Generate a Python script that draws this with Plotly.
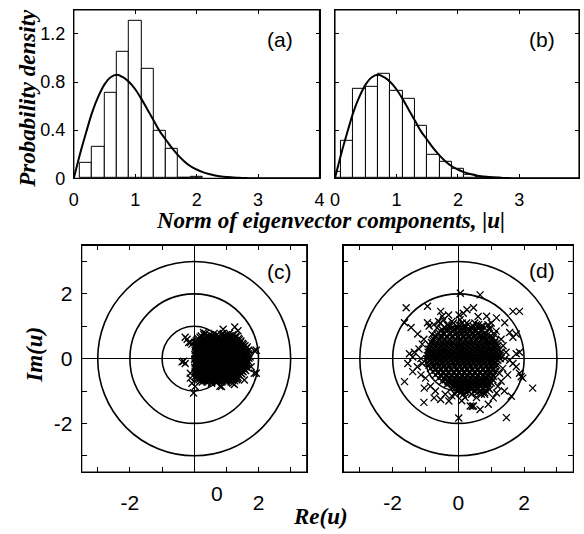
import plotly.graph_objects as go

W, H = 584, 534

# ---------------- data ----------------
# (a) histogram
hist_a_centers = [0.2, 0.4, 0.6, 0.8, 1.0, 1.2, 1.4, 1.6, 1.8, 2.0]
hist_a_heights = [0.13, 0.26, 0.71, 1.05, 1.31, 0.91, 0.395, 0.245, 0.0, 0.015]
# (b) histogram
hist_b_centers = [0.0, 0.2, 0.4, 0.6, 0.8, 1.0, 1.2, 1.4, 1.6, 1.8, 2.0, 2.2, 2.4, 2.6]
hist_b_heights = [0.05, 0.31, 0.74, 0.76, 0.865, 0.73, 0.66, 0.435, 0.195, 0.14, 0.079, 0.025, 0.011, 0.004]
bin_width = 0.2

# theoretical density curve (same in a and b)
curve_x = [0.0, 0.1, 0.2, 0.3, 0.4, 0.5, 0.6, 0.7, 0.8, 0.9, 1.0, 1.1, 1.2, 1.3, 1.4,
           1.5, 1.6, 1.7, 1.8, 1.9, 2.0, 2.1, 2.2, 2.3, 2.4, 2.5, 2.6, 2.7, 2.8, 2.9,
           3.0, 3.2, 3.4, 3.6, 3.8, 4.0]
curve_y = [0.0, 0.2, 0.38, 0.55, 0.68, 0.78, 0.84, 0.86, 0.84, 0.8, 0.74, 0.66, 0.57,
           0.48, 0.39, 0.32, 0.25, 0.19, 0.14, 0.1, 0.073, 0.051, 0.035, 0.023, 0.015,
           0.01, 0.006, 0.004, 0.002, 0.001, 0.0, 0.0, 0.0, 0.0, 0.0, 0.0]

# reference circles in (c), (d)
circle_radii = [1, 2, 3]

# (c) scatter: dense blob, read row by row (y value, list of x values)
c_row_y = [0.78, 0.74, 0.70, 0.66, 0.62, 0.585, 0.55, 0.51, 0.47, 0.435, 0.40, 0.365,
           0.33, 0.295, 0.26, 0.225, 0.19, 0.155, 0.12, 0.085, 0.05, 0.015, -0.02,
           -0.055, -0.09, -0.125, -0.16, -0.195, -0.23, -0.265, -0.30, -0.335, -0.37,
           -0.405, -0.44, -0.475, -0.51, -0.545, -0.58, -0.615, -0.65, -0.685, -0.72]
c_row_x = [
    [0.35, 0.62, 0.9, 1.1],
    [0.3, 0.5, 0.7, 0.85, 1.02, 1.2],
    [0.22, 0.45, 0.58, 0.77, 0.95, 1.12, 1.3],
    [0.18, 0.36, 0.49, 0.62, 0.75, 0.9, 1.03, 1.16, 1.3],
    [0.12, 0.3, 0.41, 0.55, 0.68, 0.83, 0.97, 1.08, 1.22, 1.38],
    [0.09, 0.25, 0.37, 0.51, 0.64, 0.77, 0.89, 1.0, 1.12, 1.26, 1.4],
    [0.06, 0.2, 0.33, 0.47, 0.6, 0.71, 0.85, 0.93, 1.04, 1.17, 1.29, 1.45],
    [0.03, 0.15, 0.29, 0.43, 0.56, 0.68, 0.79, 0.88, 0.97, 1.07, 1.19, 1.31, 1.45],
    [0.1, 0.25, 0.38, 0.5, 0.63, 0.74, 0.82, 0.9, 1.0, 1.11, 1.24, 1.36, 1.5],
    [0.07, 0.2, 0.33, 0.46, 0.59, 0.7, 0.8, 0.92, 1.03, 1.14, 1.27, 1.4, 1.53],
    [0.04, 0.16, 0.29, 0.42, 0.55, 0.66, 0.78, 0.87, 0.96, 1.07, 1.18, 1.3, 1.43, 1.58],
    [0.03, 0.12, 0.25, 0.38, 0.51, 0.62, 0.73, 0.84, 0.93, 1.03, 1.14, 1.26, 1.38, 1.52, 1.65],
    [0.09, 0.22, 0.35, 0.47, 0.58, 0.7, 0.8, 0.92, 1.02, 1.13, 1.25, 1.37, 1.5, 1.63],
    [0.06, 0.18, 0.31, 0.44, 0.55, 0.67, 0.78, 0.88, 0.98, 1.09, 1.2, 1.32, 1.45, 1.6],
    [0.03, 0.14, 0.27, 0.4, 0.52, 0.63, 0.75, 0.85, 0.95, 1.06, 1.17, 1.28, 1.41, 1.55, 1.7],
    [0.1, 0.24, 0.37, 0.49, 0.6, 0.71, 0.82, 0.92, 1.02, 1.13, 1.25, 1.37, 1.5, 1.65],
    [0.08, 0.2, 0.33, 0.45, 0.57, 0.68, 0.79, 0.89, 0.99, 1.1, 1.21, 1.33, 1.46, 1.6],
    [0.05, 0.17, 0.3, 0.42, 0.54, 0.65, 0.76, 0.86, 0.96, 1.06, 1.17, 1.3, 1.43, 1.57, 1.7],
    [0.02, 0.13, 0.25, 0.38, 0.5, 0.61, 0.72, 0.83, 0.93, 1.03, 1.14, 1.26, 1.38, 1.52, 1.66],
    [0.1, 0.22, 0.34, 0.46, 0.58, 0.69, 0.8, 0.9, 1.0, 1.11, 1.23, 1.35, 1.49, 1.63],
    [0.07, 0.18, 0.3, 0.43, 0.55, 0.66, 0.77, 0.87, 0.97, 1.08, 1.19, 1.31, 1.44, 1.58, 1.74],
    [0.04, 0.16, 0.28, 0.4, 0.52, 0.63, 0.74, 0.84, 0.94, 1.04, 1.15, 1.28, 1.41, 1.55, 1.7],
    [0.01, 0.12, 0.24, 0.36, 0.48, 0.6, 0.71, 0.81, 0.91, 1.01, 1.12, 1.24, 1.36, 1.5, 1.64],
    [0.09, 0.2, 0.32, 0.44, 0.56, 0.67, 0.78, 0.88, 0.98, 1.09, 1.2, 1.33, 1.46, 1.6],
    [0.06, 0.17, 0.29, 0.41, 0.53, 0.64, 0.75, 0.85, 0.95, 1.05, 1.16, 1.28, 1.41, 1.55, 1.69],
    [0.03, 0.12, 0.23, 0.35, 0.47, 0.58, 0.69, 0.79, 0.89, 0.99, 1.1, 1.22, 1.34, 1.47, 1.62],
    [0.03, 0.14, 0.26, 0.38, 0.5, 0.61, 0.72, 0.82, 0.92, 1.02, 1.13, 1.25, 1.37, 1.5, 1.62],
    [0.06, 0.17, 0.29, 0.41, 0.53, 0.64, 0.75, 0.85, 0.95, 1.06, 1.17, 1.29, 1.42, 1.56],
    [0.08, 0.2, 0.32, 0.44, 0.56, 0.67, 0.78, 0.88, 0.98, 1.09, 1.2, 1.32, 1.45, 1.58],
    [0.02, 0.12, 0.24, 0.36, 0.48, 0.59, 0.7, 0.81, 0.91, 1.01, 1.12, 1.24, 1.37, 1.5, 1.63],
    [0.04, 0.15, 0.27, 0.39, 0.51, 0.62, 0.73, 0.84, 0.94, 1.04, 1.15, 1.27, 1.4, 1.54, 1.68],
    [0.07, 0.18, 0.3, 0.42, 0.54, 0.65, 0.76, 0.87, 0.97, 1.08, 1.19, 1.31, 1.44, 1.57],
    [0.1, 0.22, 0.34, 0.46, 0.58, 0.69, 0.8, 0.9, 1.0, 1.11, 1.23, 1.35, 1.48, 1.6],
    [0.03, 0.14, 0.26, 0.38, 0.5, 0.62, 0.73, 0.83, 0.93, 1.03, 1.15, 1.27, 1.4, 1.52],
    [0.05, 0.17, 0.29, 0.42, 0.54, 0.65, 0.76, 0.86, 0.96, 1.07, 1.19, 1.31, 1.44],
    [0.08, 0.2, 0.33, 0.46, 0.58, 0.69, 0.79, 0.89, 1.0, 1.11, 1.23, 1.36, 1.48],
    [0.11, 0.24, 0.37, 0.5, 0.62, 0.73, 0.83, 0.93, 1.04, 1.16, 1.28, 1.4],
    [0.04, 0.16, 0.29, 0.42, 0.55, 0.66, 0.76, 0.87, 0.97, 1.09, 1.21, 1.33],
    [0.07, 0.2, 0.33, 0.46, 0.59, 0.7, 0.8, 0.91, 1.02, 1.14, 1.26, 1.36],
    [0.12, 0.25, 0.38, 0.51, 0.63, 0.74, 0.85, 0.96, 1.08, 1.22, 1.34],
    [0.15, 0.28, 0.42, 0.56, 0.68, 0.79, 0.9, 1.03, 1.18, 1.32],
    [0.2, 0.34, 0.48, 0.62, 0.75, 0.88, 1.0, 1.12, 1.26],
    [0.25, 0.4, 0.55, 0.7, 0.86, 1.0, 1.15],
]
# (c) isolated points
c_out_x = [-0.28, -0.17, -0.07, -0.22, -0.12, -0.38, -0.28, -0.33, 0.29, 0.9, 1.26, 1.36,
           1.87, 1.93, 1.87, 1.93, -0.07, 0.03, -0.02, 0.23, 0.54, 0.85, 1.2, 1.56, 1.77,
           -0.12, -0.12, 1.25, 0.8]
c_out_y = [0.66, 0.5, 0.45, 0.6, 0.5, -0.1, -0.15, -0.08, 0.81, 0.91, 0.98, 0.86,
           0.25, 0.26, -0.45, -0.45, -0.76, -0.86, -1.06, -0.66, -0.76, -0.86, -0.76,
           -0.66, -0.25, -0.45, -0.6, -0.8, -0.85]

# (d) scatter: dense core, row by row
d_row_y = [1.1, 1.05, 1.0, 0.95, 0.9, 0.85, 0.8, 0.75, 0.7, 0.65, 0.6, 0.55, 0.5, 0.45,
           0.4, 0.35, 0.3, 0.25, 0.2, 0.15, 0.1, 0.05, 0.0, -0.05, -0.1, -0.15, -0.2,
           -0.25, -0.3, -0.35, -0.4, -0.45, -0.5, -0.55, -0.6, -0.65, -0.7, -0.75, -0.8,
           -0.85, -0.9, -0.95, -1.0, -1.05, -1.1]
d_row_x = [
    [-0.55, -0.15, 0.12, 0.5],
    [-0.35, 0.0, 0.3, 0.62, 0.9],
    [-0.3, -0.05, 0.2, 0.45, 0.7],
    [-0.65, -0.42, -0.2, 0.0, 0.2, 0.4, 0.6],
    [-0.5, -0.3, -0.1, 0.1, 0.3, 0.5, 0.7, 0.95],
    [-0.55, -0.37, -0.17, 0.03, 0.2, 0.37, 0.54, 0.72],
    [-0.6, -0.45, -0.25, -0.05, 0.12, 0.28, 0.45, 0.62, 0.8],
    [-0.8, -0.65, -0.44, -0.27, -0.1, 0.08, 0.24, 0.41, 0.58, 0.75, 0.9, 1.1],
    [-0.7, -0.52, -0.35, -0.18, 0.0, 0.16, 0.33, 0.5, 0.66, 0.84, 0.98],
    [-0.72, -0.5, -0.34, -0.18, -0.02, 0.14, 0.3, 0.46, 0.62, 0.78, 0.94, 1.06],
    [-0.75, -0.58, -0.42, -0.26, -0.1, 0.06, 0.22, 0.38, 0.54, 0.7, 0.86, 1.02],
    [-0.78, -0.62, -0.46, -0.3, -0.14, 0.02, 0.18, 0.34, 0.5, 0.66, 0.82, 0.98, 1.12],
    [-0.82, -0.66, -0.5, -0.33, -0.17, 0.0, 0.15, 0.3, 0.46, 0.62, 0.78, 0.94, 1.1],
    [-0.78, -0.62, -0.46, -0.3, -0.14, 0.02, 0.18, 0.34, 0.5, 0.66, 0.82, 0.98, 1.13],
    [-0.86, -0.7, -0.54, -0.38, -0.22, -0.06, 0.1, 0.26, 0.42, 0.58, 0.74, 0.9, 1.06, 1.2],
    [-0.82, -0.66, -0.5, -0.33, -0.17, -0.01, 0.15, 0.31, 0.47, 0.63, 0.79, 0.95, 1.1],
    [-0.9, -0.74, -0.57, -0.41, -0.25, -0.09, 0.07, 0.23, 0.39, 0.55, 0.71, 0.87, 1.03, 1.18],
    [-0.84, -0.68, -0.52, -0.36, -0.2, -0.04, 0.12, 0.28, 0.44, 0.6, 0.76, 0.92, 1.08, 1.22],
    [-0.92, -0.76, -0.6, -0.44, -0.28, -0.12, 0.04, 0.2, 0.36, 0.52, 0.68, 0.84, 1.0, 1.15, 1.3],
    [-0.87, -0.71, -0.55, -0.39, -0.23, -0.07, 0.09, 0.25, 0.41, 0.57, 0.73, 0.89, 1.05, 1.2],
    [-0.95, -0.79, -0.63, -0.47, -0.31, -0.15, 0.01, 0.17, 0.33, 0.49, 0.65, 0.81, 0.97, 1.12, 1.27],
    [-0.88, -0.72, -0.56, -0.4, -0.24, -0.08, 0.1, 0.26, 0.42, 0.58, 0.74, 0.9, 1.06, 1.21],
    [-0.96, -0.8, -0.64, -0.48, -0.32, -0.16, 0.02, 0.18, 0.34, 0.5, 0.66, 0.82, 0.98, 1.14, 1.28],
    [-0.86, -0.7, -0.54, -0.38, -0.22, -0.06, 0.11, 0.27, 0.43, 0.59, 0.75, 0.91, 1.07, 1.2],
    [-0.94, -0.78, -0.62, -0.46, -0.3, -0.14, 0.03, 0.19, 0.35, 0.51, 0.67, 0.83, 0.99, 1.14],
    [-0.82, -0.66, -0.5, -0.34, -0.18, -0.02, 0.14, 0.3, 0.46, 0.62, 0.78, 0.94, 1.1],
    [-0.9, -0.74, -0.58, -0.42, -0.26, -0.1, 0.06, 0.22, 0.38, 0.54, 0.7, 0.86, 1.02, 1.17],
    [-0.77, -0.61, -0.45, -0.29, -0.13, 0.03, 0.19, 0.35, 0.51, 0.67, 0.83, 0.99, 1.13],
    [-0.85, -0.69, -0.53, -0.37, -0.21, -0.05, 0.11, 0.27, 0.43, 0.59, 0.75, 0.91, 1.07],
    [-0.7, -0.54, -0.38, -0.22, -0.06, 0.1, 0.26, 0.42, 0.58, 0.74, 0.9, 1.04],
    [-0.78, -0.62, -0.46, -0.3, -0.14, 0.02, 0.18, 0.34, 0.5, 0.66, 0.82, 0.98, 1.12],
    [-0.62, -0.46, -0.3, -0.14, 0.02, 0.18, 0.34, 0.5, 0.66, 0.82, 0.98],
    [-0.7, -0.54, -0.38, -0.22, -0.06, 0.1, 0.26, 0.42, 0.58, 0.74, 0.9, 1.05],
    [-0.52, -0.36, -0.2, -0.04, 0.12, 0.28, 0.44, 0.6, 0.76, 0.92, 1.06],
    [-0.6, -0.44, -0.28, -0.12, 0.04, 0.2, 0.36, 0.52, 0.68, 0.84, 1.0],
    [-0.4, -0.24, -0.08, 0.08, 0.24, 0.4, 0.56, 0.72, 0.88, 1.05],
    [-0.48, -0.32, -0.16, 0.0, 0.16, 0.32, 0.48, 0.64, 0.8, 0.95],
    [-0.26, -0.1, 0.06, 0.22, 0.38, 0.54, 0.7, 0.86, 1.0],
    [-0.35, -0.18, -0.02, 0.14, 0.3, 0.46, 0.62, 0.78, 0.92],
    [-0.12, 0.04, 0.2, 0.36, 0.52, 0.68, 0.84],
    [-0.2, -0.04, 0.12, 0.28, 0.44, 0.6, 0.76, 0.9],
    [0.03, 0.2, 0.38, 0.56, 0.75],
    [-0.05, 0.12, 0.3, 0.48, 0.66, 0.85],
    [0.05, 0.25, 0.58, 0.8],
    [-0.1, 0.15, 0.4, 0.7],
]
# (d) scattered outer points
d_out_x = [-0.75, -0.6, -0.45, -0.2, 0.05, 0.25, 0.55, 0.75, 0.95, 1.15, -0.54, -0.49,
           0.26, 0.46, 0.86, 1.16, 1.66, 1.41, 0.06, 0.66, -1.59, -0.94, -0.94, -0.89,
           -1.44, -1.64, -1.24, 0.02, 0.15, -0.3, 0.6, 1.0,
           -1.05, -1.1, -1.2, -1.34, -1.49, -1.39, -1.14, -1.1, -1.54, -1.25, -1.39, -1.14,
           -1.0, -1.64, -1.04, -0.85, -0.7, -1.05, -0.74, -0.54, -0.29, -0.4, -0.2,
           0.01, 0.36, 0.42, 0.46, 0.66, 0.91, 1.06, 1.16, 1.46, 1.61, 0.2, 0.55, 0.8,
           0.95, 0.1, 1.2, 1.3,
           1.86, 1.91, 1.96, 2.26, 1.66, 1.76, 1.86, 1.76, 1.56, 1.36, 1.45, 1.35, 1.5,
           1.3, 1.56, 1.66, 1.76, 1.86, 1.4, 1.25, 1.42]
d_out_y = [1.05, 1.15, 1.2, 1.15, 1.2, 1.1, 1.05, 1.0, 0.95, 0.85, 1.46, 1.31,
           1.51, 1.57, 1.31, 1.26, 1.46, 1.11, 2.02, 1.97, 1.57, 1.62, 1.11, 1.01,
           0.96, 1.11, 0.76, 1.35, 1.4, 1.35, 1.3, 1.1,
           0.6, 0.45, 0.3, 0.2, 0.15, 0.05, 0.0, -0.15, -0.15, -0.25, -0.4, -0.5,
           -0.6, -0.71, -0.91, -0.85, -1.0, -1.35, -1.21, -1.26, -1.31, -1.1, -1.15,
           -1.83, -1.46, -1.47, -1.46, -1.57, -1.41, -1.21, -1.06, -1.82, -1.16, -1.2,
           -1.2, -1.1, -0.95, -1.3, -0.85, -0.7,
           -0.45, -0.56, -0.6, -0.91, -0.15, -0.25, 0.2, 0.15, -0.05, 0.4, 0.2, -0.3,
           -0.5, 0.6, 0.81, 0.66, 0.76, 1.46, -1.0, -0.45, 0.0]


def rows_to_xy(row_y, row_x, out_x, out_y):
    xs, ys = [], []
    for yv, xr in zip(row_y, row_x):
        for xv in xr:
            xs.append(xv)
            ys.append(yv)
    return xs + out_x, ys + out_y


c_x, c_y = rows_to_xy(c_row_y, c_row_x, c_out_x, c_out_y)
d_x, d_y = rows_to_xy(d_row_y, d_row_x, d_out_x, d_out_y)

# ---------------- figure ----------------
SANS = "Liberation Sans, Arial, sans-serif"
SERIF = "Liberation Serif, Times New Roman, serif"


def fx(p):
    return p / W


def fy(p):
    return 1 - p / H


fig = go.Figure()

bar_style = dict(marker=dict(color="white", line=dict(color="black", width=1)),
                 width=bin_width, showlegend=False, hoverinfo="skip")
line_style = dict(mode="lines", line=dict(color="black", width=2, shape="spline"),
                  showlegend=False, hoverinfo="skip")
pt_style = dict(mode="markers", showlegend=False, hoverinfo="skip",
                marker=dict(symbol="x-thin", size=7, color="black",
                            line=dict(color="black", width=1.3)))

fig.add_trace(go.Bar(x=hist_a_centers, y=hist_a_heights, xaxis="x", yaxis="y", **bar_style))
fig.add_trace(go.Scatter(x=curve_x, y=curve_y, xaxis="x", yaxis="y", **line_style))
fig.add_trace(go.Bar(x=hist_b_centers, y=hist_b_heights, xaxis="x2", yaxis="y2", **bar_style))
fig.add_trace(go.Scatter(x=curve_x, y=curve_y, xaxis="x2", yaxis="y2", **line_style))
fig.add_trace(go.Scatter(x=c_x, y=c_y, xaxis="x3", yaxis="y3", **pt_style))
fig.add_trace(go.Scatter(x=d_x, y=d_y, xaxis="x4", yaxis="y4", **pt_style))

common = dict(showline=True, linecolor="black", linewidth=1, mirror="ticks",
              ticks="inside", tickcolor="black", tickwidth=1, showgrid=False,
              zeroline=False, fixedrange=True)
top_font = dict(family=SANS, size=18, color="black")
bot_font = dict(family=SANS, size=21, color="black")

top_x = dict(common, tick0=0, dtick=1, ticklen=4, tickfont=top_font, ticklabelstandoff=5)
top_y = dict(common, range=[0, 1.4], tick0=0, dtick=0.4, ticklen=4, tickfont=top_font,
             ticklabelstandoff=4)

int_ticks = [-3, -2, -1, 0, 1, 2, 3]
bot_common = dict(common, range=[-3.5, 3.5], tickvals=int_ticks, ticklen=5,
                  tickfont=bot_font, zeroline=True, zerolinecolor="black",
                  zerolinewidth=1)

fig.update_layout(
    width=W, height=H, autosize=False,
    margin=dict(l=0, r=0, t=0, b=0, pad=0),
    paper_bgcolor="white", plot_bgcolor="white",
    bargap=0,
    xaxis=dict(top_x, range=[0, 4], domain=[fx(70), fx(320)], anchor="y"),
    yaxis=dict(top_y, domain=[fy(181.7), fy(10)], anchor="x"),
    xaxis2=dict(top_x, range=[0, 3.97], domain=[fx(335.7), 1.0], anchor="y2"),
    yaxis2=dict(top_y, domain=[fy(181.7), fy(10)], anchor="x2", showticklabels=False),
    xaxis3=dict(bot_common, domain=[fx(78), fx(307)], anchor="y3",
                ticktext=["", "-2", "", "", "", "2", ""], ticklabelstandoff=12),
    yaxis3=dict(bot_common, domain=[fy(481), fy(250)], anchor="x3",
                ticktext=["", "-2", "", "0", "", "2", ""], ticklabelstandoff=4),
    xaxis4=dict(bot_common, domain=[fx(344.3), fx(578.3)], anchor="y4",
                ticktext=["", "-2", "", "0", "", "2", ""], ticklabelstandoff=12),
    yaxis4=dict(bot_common, domain=[fy(481), fy(250)], anchor="x4", showticklabels=False),
)

shapes = []
for ax in ("3", "4"):
    for r in circle_radii:
        shapes.append(dict(type="circle", xref="x" + ax, yref="y" + ax,
                           x0=-r, x1=r, y0=-r, y1=r, layer="below",
                           line=dict(color="black", width=1.6)))
# panel frames
for xa, ya in (("x", "y"), ("x2", "y2"), ("x3", "y3"), ("x4", "y4")):
    shapes.append(dict(type="rect", xref=xa + " domain", yref=ya + " domain",
                       x0=0, x1=1, y0=0, y1=1, layer="above",
                       line=dict(color="black", width=1.2),
                       fillcolor="rgba(0,0,0,0)"))
fig.update_layout(shapes=shapes)

title_font = dict(family=SERIF, size=23, color="black", weight="bold", style="italic")
label_font = dict(family=SANS, size=21, color="black")

annotations = [
    dict(text="Probability density", x=fx(23), y=fy(100), textangle=-90, font=title_font),
    dict(text="Norm of eigenvector components, |u|", x=fx(331), y=fy(225), font=title_font),
    dict(text="Im(u)", x=fx(30), y=fy(361), textangle=-90, font=title_font),
    dict(text="Re(u)", x=fx(320.5), y=fy(526), font=title_font),
    dict(text="(a)", x=fx(280), y=fy(40), font=label_font),
    dict(text="(b)", x=fx(546.7), y=fy(40), font=label_font),
    dict(text="(c)", x=fx(279), y=fy(277), font=label_font),
    dict(text="(d)", x=fx(546.7), y=fy(276), font=label_font),
]
for a in annotations:
    a.update(xref="paper", yref="paper", showarrow=False, xanchor="center", yanchor="middle")
# the "0" under panel (c) sits off its tick in the original
annotations.append(dict(text="0", x=0.7, xref="x3", y=fy(503), yref="paper", showarrow=False,
                        xanchor="center", yanchor="middle", font=bot_font))
fig.update_layout(annotations=annotations)

fig.write_html("out.html", config={"displayModeBar": False},
               post_script="document.body.style.margin='0';document.body.style.overflow='hidden';")
